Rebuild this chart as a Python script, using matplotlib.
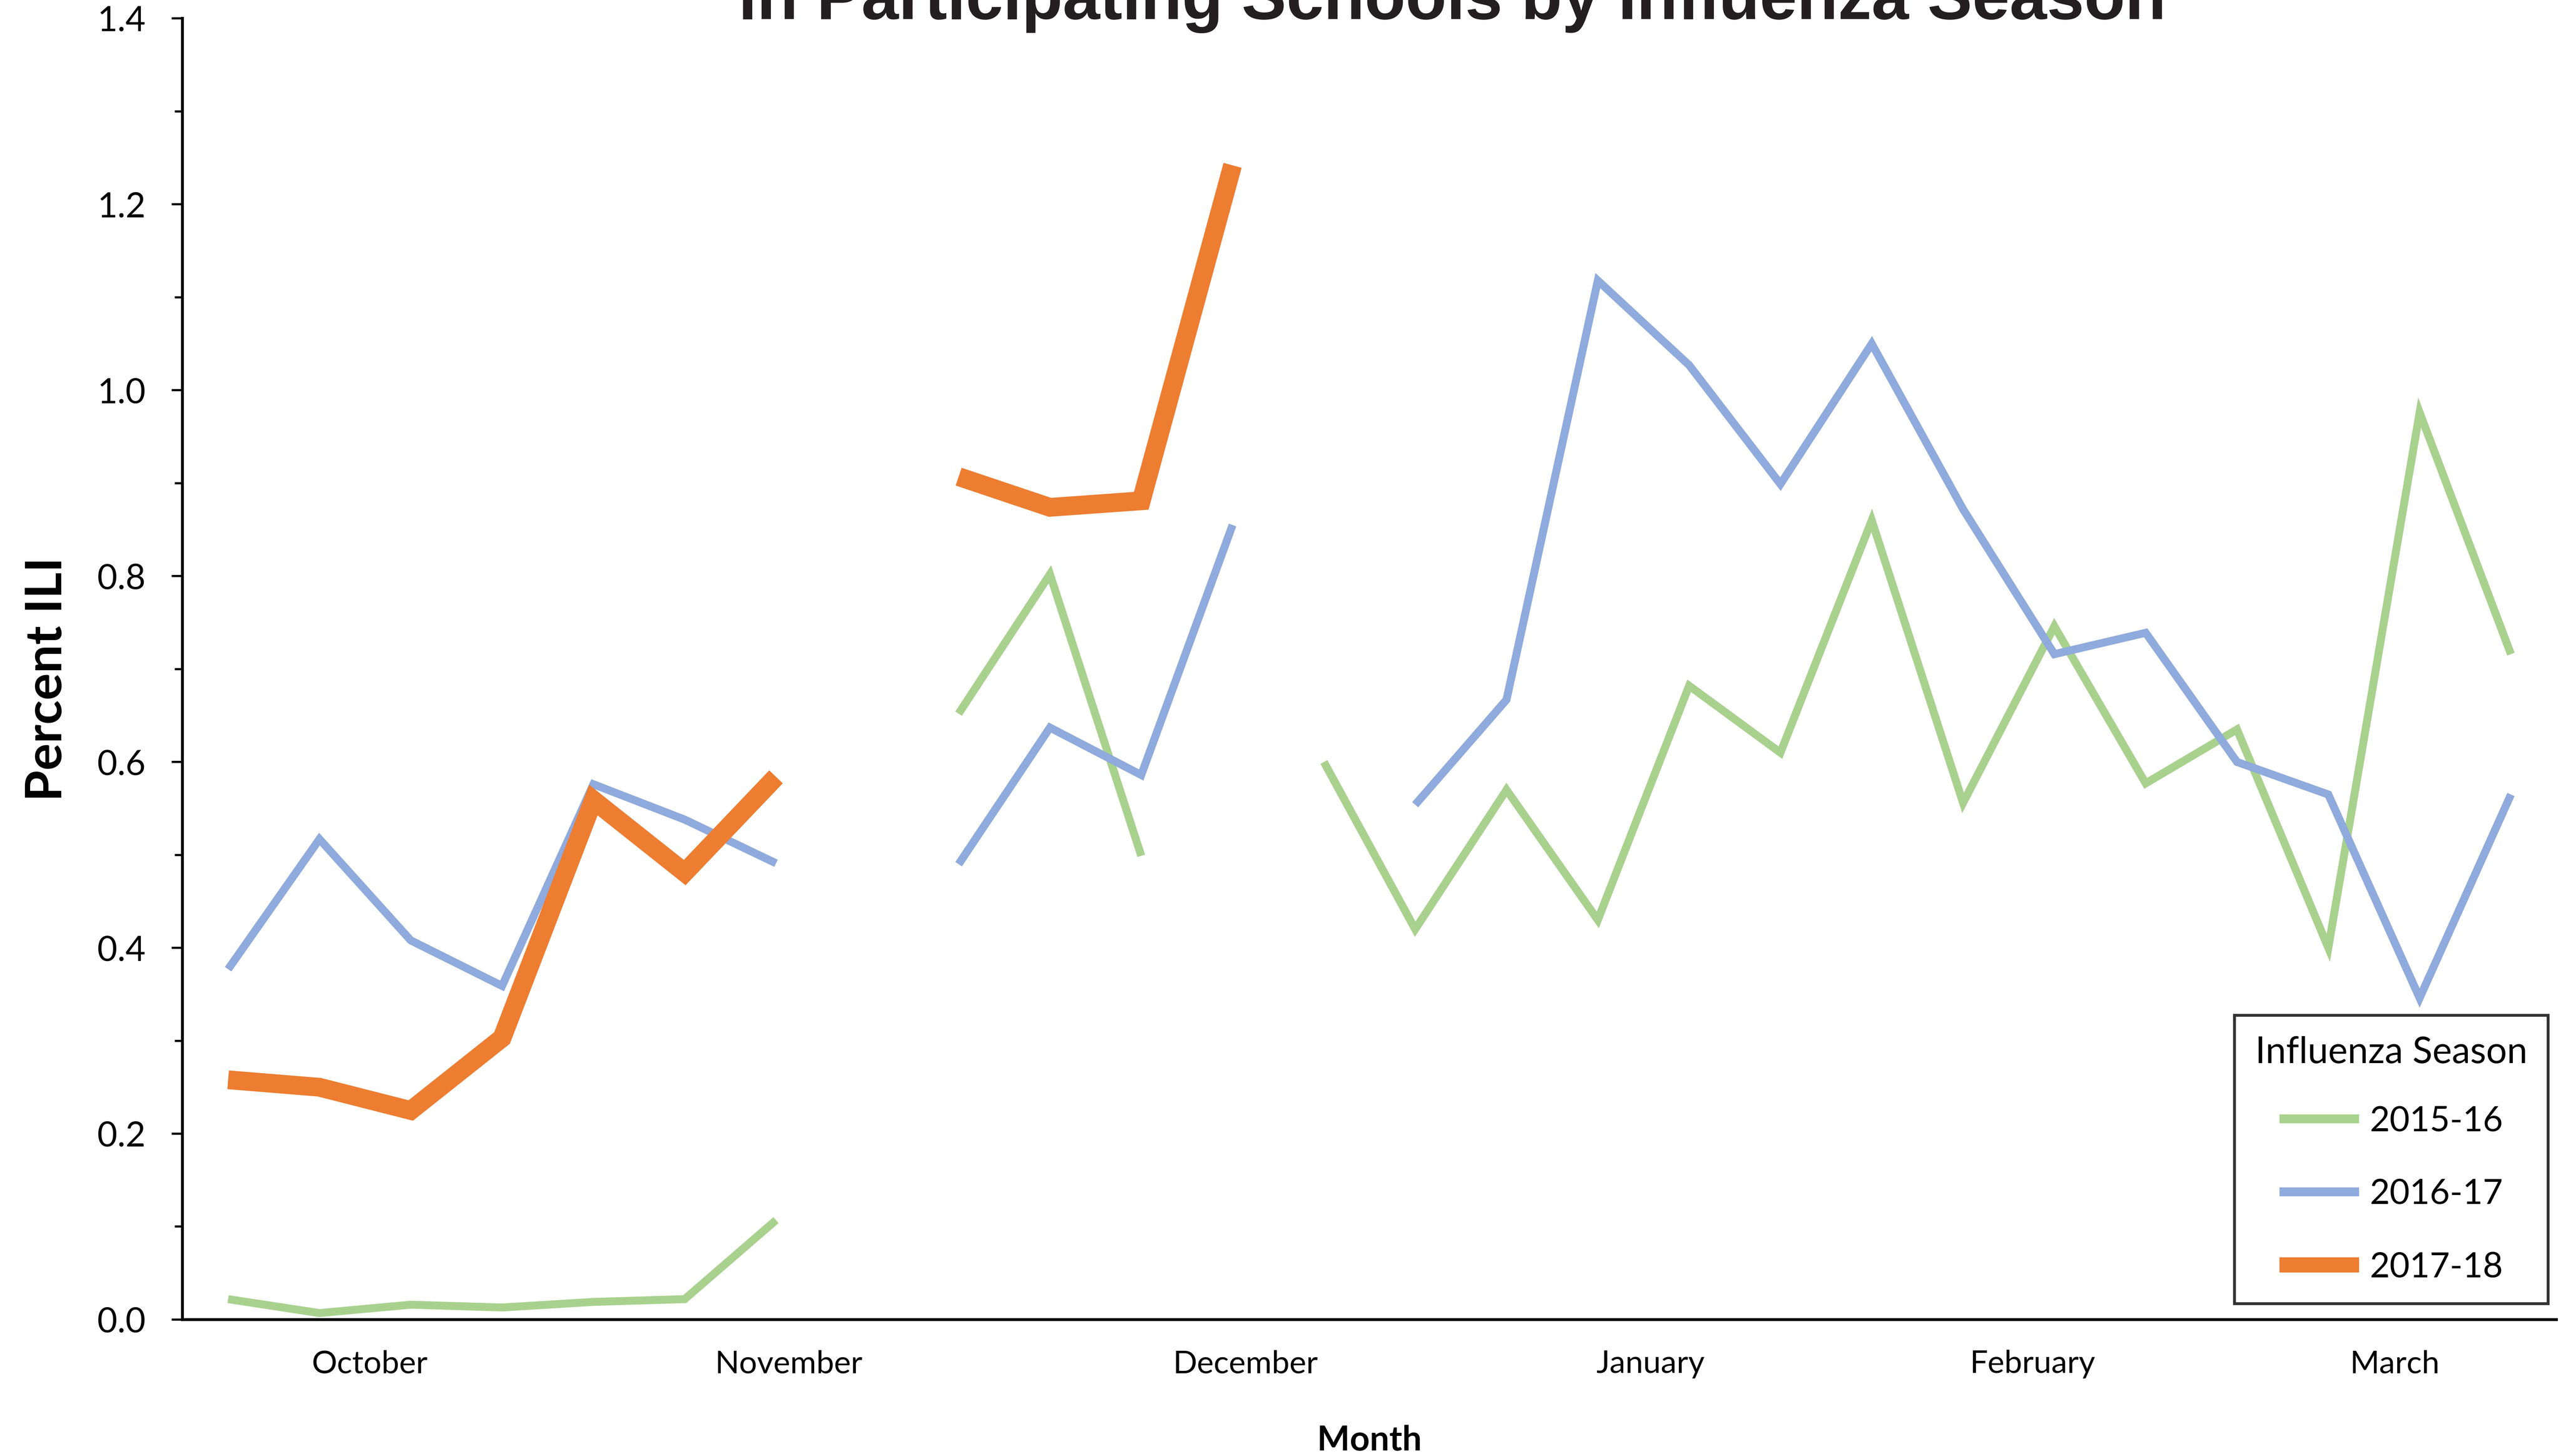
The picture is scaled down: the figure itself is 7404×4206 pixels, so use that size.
import numpy as np
import matplotlib
matplotlib.use('Agg')
import matplotlib.pyplot as plt
from matplotlib.ticker import MultipleLocator

nan = np.nan

# weekly percent ILI, 26 weeks (October -> March), gaps where no data
weeks = np.arange(26)
ili_2015 = [0.022, 0.007, 0.016, 0.013, 0.019, 0.022, 0.107, nan,
            0.652, 0.802, 0.499, nan, 0.600, 0.420, 0.570, 0.430,
            0.682, 0.610, 0.860, 0.556, 0.746, 0.577, 0.635, 0.400,
            0.976, 0.716]
ili_2016 = [0.377, 0.517, 0.408, 0.359, 0.576, 0.538, 0.491, nan,
            0.490, 0.637, 0.586, 0.855, nan, 0.554, 0.667, 1.118,
            1.027, 0.899, 1.050, 0.872, 0.716, 0.739, 0.600, 0.565,
            0.346, 0.565]
ili_2017 = [0.258, 0.250, 0.225, 0.303, 0.559, 0.481, 0.584, nan,
            0.907, 0.874, 0.881, 1.242, nan, nan, nan, nan,
            nan, nan, nan, nan, nan, nan, nan, nan, nan, nan]

seasons = ['2015-16', '2016-17', '2017-18']
colors = ['#A9D18E', '#8FAADC', '#ED7D31']
widths = [5.5, 5.5, 13]

month_names = ['October', 'November', 'December', 'January', 'February', 'March']
month_pos = [1.55, 6.14, 11.14, 15.58, 19.76, 23.73]

plt.rcParams['font.family'] = ['Lato', 'DejaVu Sans']

fig = plt.figure(figsize=(7404 / 300, 4206 / 300), dpi=300)
ax = fig.add_axes([0.0712, 0.0937, 0.9975 - 0.0712, 0.9873 - 0.0937])

for vals, lab, col, lw in zip([ili_2015, ili_2016, ili_2017], seasons, colors, widths):
    ax.plot(weeks, vals, color=col, lw=lw, label=lab,
            solid_joinstyle='miter', solid_capstyle='butt')

ax.set_xlim(-0.5, 25.5)
ax.set_ylim(0, 1.4)
ax.yaxis.set_major_locator(MultipleLocator(0.2))
ax.yaxis.set_minor_locator(MultipleLocator(0.1))
ax.yaxis.set_major_formatter(matplotlib.ticker.FormatStrFormatter('%.1f'))
ax.set_xticks(month_pos)
ax.set_xticklabels(month_names)

ax.tick_params(axis='x', length=0, pad=21, labelsize=22)
ax.tick_params(axis='y', which='major', length=7.5, width=1.5, pad=18, labelsize=24)
ax.tick_params(axis='y', which='minor', length=5.3, width=1.5)

for s in ['top', 'right']:
    ax.spines[s].set_visible(False)
for s in ['left', 'bottom']:
    ax.spines[s].set_linewidth(2)

ax.set_ylabel('Percent ILI', fontsize=35, fontweight='bold', labelpad=19)
ax.yaxis.label.set_y(0.492)
ax.set_xlabel('Month', fontsize=24, fontweight='bold', labelpad=32)

fig.text(0.5666, 1 - 55 / 4206, 'in Participating Schools by Influenza Season',
         ha='center', va='baseline', fontsize=46.5, fontweight='bold',
         family=['Liberation Sans', 'DejaVu Sans'], color='#231F20')

leg = ax.legend(title='Influenza Season', loc='lower right',
                bbox_to_anchor=(7361 / 7404, 1 - 3766 / 4206),
                bbox_transform=fig.transFigure,
                fontsize=24, title_fontsize=25.5, frameon=True, fancybox=False,
                handlelength=2.3, handletextpad=0.31, labelspacing=1.2,
                borderpad=0.6, borderaxespad=0)
leg.get_frame().set_edgecolor('black')
leg.get_frame().set_linewidth(2)
leg._legend_box.sep = 25
for h, lw in zip(leg.get_lines(), [6.2, 6.2, 10.5]):
    h.set_linewidth(lw)

fig.savefig('out.png', dpi=300)
